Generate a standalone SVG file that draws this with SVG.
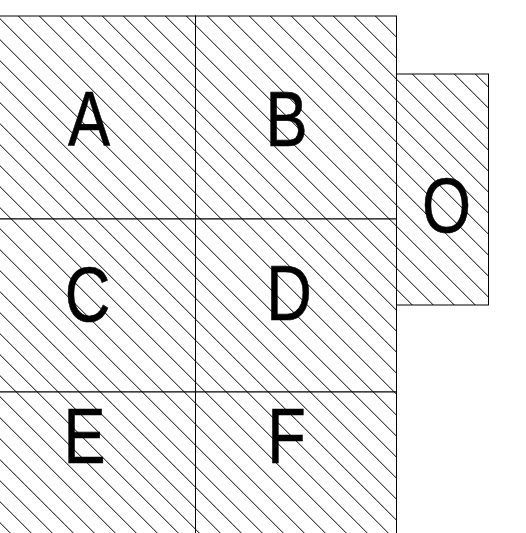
<svg xmlns="http://www.w3.org/2000/svg" width="526" height="533" viewBox="0 0 526 533">
<style>
.cell { fill: url(#hatch); stroke: #000; stroke-width: 1; }
.lbl { font-family: "Liberation Sans", Arial, sans-serif; font-size: 77px; fill: #000; stroke: #000; stroke-width: 0.6; text-anchor: middle; }
</style>
<defs>
<pattern id="hatch" patternUnits="userSpaceOnUse" x="0" y="0" width="21" height="21">
<rect width="21" height="21" fill="#fff"/>
<path d="M-20.7,-2 L4.3,23 M0.3,-2 L25.3,23 M21.3,-2 L46.3,23" stroke="#000" stroke-width="1" fill="none"/>
</pattern>
</defs>
<rect width="526" height="533" fill="#fff"/>
<g id="A"><rect class="cell" x="-2" y="16" width="197.5" height="203"/><text class="lbl" transform="translate(89,146) scale(0.82,1)">A</text></g>
<g id="B"><rect class="cell" x="195.5" y="16" width="201" height="203"/><text class="lbl" transform="translate(286.5,146) scale(0.82,1)">B</text></g>
<g id="C"><rect class="cell" x="-2" y="219" width="197.5" height="173"/><text class="lbl" transform="translate(87.5,321) scale(0.82,1)">C</text></g>
<g id="D"><rect class="cell" x="195.5" y="219" width="201" height="173"/><text class="lbl" transform="translate(289,320) scale(0.82,1)">D</text></g>
<g id="E"><rect class="cell" x="-2" y="392" width="197.5" height="150"/><text class="lbl" transform="translate(84.5,463) scale(0.82,1)">E</text></g>
<g id="F"><rect class="cell" x="195.5" y="392" width="201" height="150"/><text class="lbl" transform="translate(286.5,463) scale(0.82,1)">F</text></g>
<g id="O"><rect class="cell" x="396.5" y="74" width="92" height="231"/><text class="lbl" transform="translate(446.5,232) scale(0.82,1)">O</text></g>
<g id="connectors"></g>
</svg>
